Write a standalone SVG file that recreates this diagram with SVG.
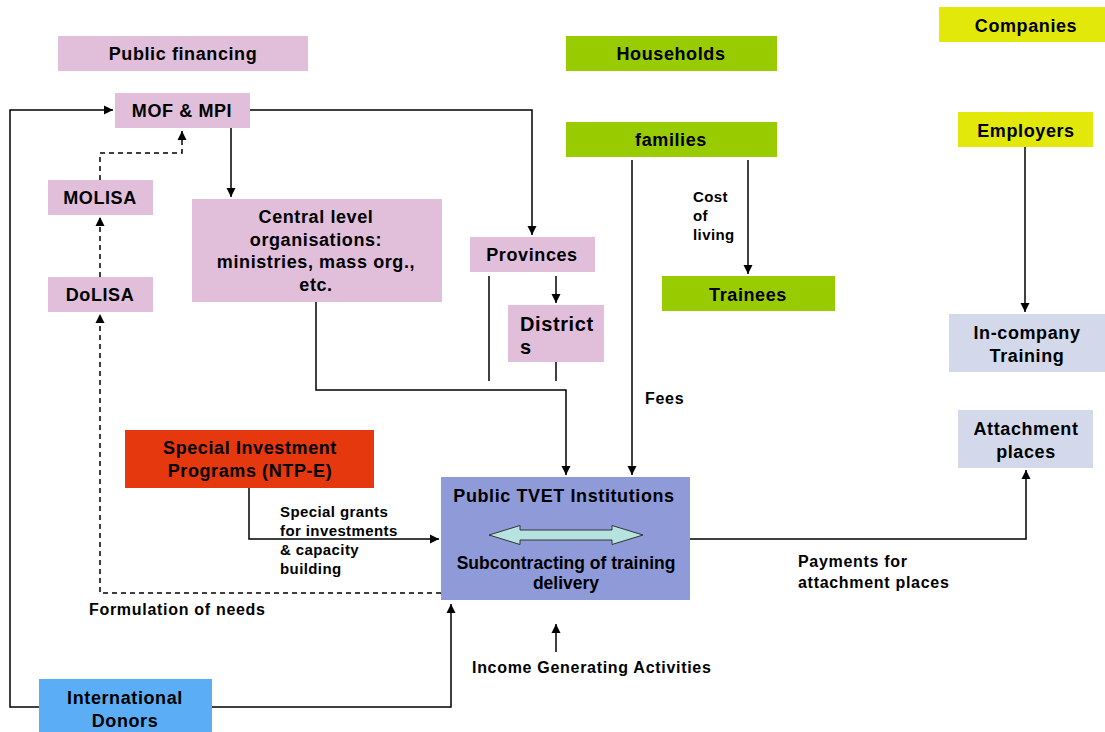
<svg xmlns="http://www.w3.org/2000/svg" width="1105" height="732" viewBox="0 0 1105 732">
<defs>
<marker id="ah" markerWidth="10" markerHeight="10" refX="9" refY="5" orient="auto" markerUnits="userSpaceOnUse">
<path d="M0,0.5 L9,5 L0,9.5 z" fill="#000"/>
</marker>
<style>
text{font-family:"Liberation Sans",Arial,sans-serif;font-weight:bold;fill:#000}
.n{font-size:18px;letter-spacing:0.6px;text-anchor:middle}
.l{font-size:16px;letter-spacing:0.7px}
.s{font-size:15px;letter-spacing:0.4px}
.pink{fill:#E1BEDA}
.green{fill:#99CC00}
.yel{fill:#E2E80A}
.lav{fill:#D3D9EB}
.c{fill:none;stroke:#000;stroke-width:1.5}
.d{fill:none;stroke:#000;stroke-width:1.5;stroke-dasharray:5,4}
</style>
</defs>
<rect width="1105" height="732" fill="#fff"/>
<g id="connectors">
<path class="c" d="M39,707 H10 V110 H113" marker-end="url(#ah)"/>
<path class="c" d="M212,707 H451 V604" marker-end="url(#ah)"/>
<path class="c" d="M250,110 H532 V235" marker-end="url(#ah)"/>
<path class="c" d="M231,128 V197" marker-end="url(#ah)"/>
<path class="d" d="M100,180 V153 H182 V131" marker-end="url(#ah)"/>
<path class="d" d="M100,277 V217" marker-end="url(#ah)"/>
<path class="d" d="M441,593 H100 V314" marker-end="url(#ah)"/>
<path class="c" d="M316,302 V390 H566 V475" marker-end="url(#ah)"/>
<path class="c" d="M489,276 V381"/>
<path class="c" d="M556,276 V303" marker-end="url(#ah)"/>
<path class="c" d="M556,343 V381"/>
<path class="c" d="M632,160 V475" marker-end="url(#ah)"/>
<path class="c" d="M748,160 V274" stroke-width="2.2" marker-end="url(#ah)"/>
<path class="c" d="M1025,147 V312" marker-end="url(#ah)"/>
<path class="c" d="M690,539 H1026 V470" marker-end="url(#ah)"/>
<path class="c" d="M249,488 V539 H439" marker-end="url(#ah)"/>
<path class="c" d="M556,652 V624" marker-end="url(#ah)"/>
</g>
<g id="public-financing"><rect class="pink" x="58" y="36" width="250" height="35"/><text class="n" x="183" y="60">Public financing</text></g>
<g id="mof-mpi"><rect class="pink" x="115" y="93" width="135" height="35"/><text class="n" x="182" y="117">MOF &amp; MPI</text></g>
<g id="molisa"><rect class="pink" x="48" y="180" width="105" height="35"/><text class="n" x="100" y="204">MOLISA</text></g>
<g id="dolisa"><rect class="pink" x="48" y="277" width="105" height="35"/><text class="n" x="100" y="301">DoLISA</text></g>
<g id="central"><rect class="pink" x="192" y="199" width="250" height="103"/>
<text class="n" x="316" y="223">Central level</text>
<text class="n" x="316" y="246">organisations:</text>
<text class="n" x="316" y="268">ministries, mass org.,</text>
<text class="n" x="316" y="291">etc.</text></g>
<g id="provinces"><rect class="pink" x="470" y="237" width="125" height="35"/><text class="n" x="532" y="261">Provinces</text></g>
<g id="districts"><rect class="pink" x="508" y="305" width="96" height="57"/>
<text x="520" y="331" style="font-size:20px;letter-spacing:0.6px">District</text>
<text x="520" y="354" style="font-size:20px">s</text></g>
<g id="households"><rect class="green" x="566" y="36" width="211" height="35"/><text class="n" x="671" y="60">Households</text></g>
<g id="families"><rect class="green" x="566" y="122" width="211" height="35"/><text class="n" x="671" y="146">families</text></g>
<g id="trainees"><rect class="green" x="662" y="276" width="173" height="35"/><text class="n" x="748" y="301">Trainees</text></g>
<g id="companies"><rect class="yel" x="939" y="7" width="166" height="35"/><text class="n" x="1026" y="32">Companies</text></g>
<g id="employers"><rect class="yel" x="958" y="112" width="135" height="35"/><text class="n" x="1026" y="137">Employers</text></g>
<g id="in-company"><rect class="lav" x="949" y="314" width="156" height="58"/>
<text class="n" x="1027" y="339">In-company</text>
<text class="n" x="1027" y="362">Training</text></g>
<g id="attachment"><rect class="lav" x="958" y="410" width="135" height="58"/>
<text class="n" x="1026" y="435">Attachment</text>
<text class="n" x="1026" y="458">places</text></g>
<g id="special-investment"><rect x="125" y="430" width="249" height="58" fill="#E5380E"/>
<text class="n" x="250" y="454">Special Investment</text>
<text class="n" x="250" y="477">Programs (NTP-E)</text></g>
<g id="tvet"><rect x="441" y="477" width="249" height="123" fill="#8F9AD9"/>
<text class="n" x="564" y="502">Public TVET Institutions</text>
<path d="M489,535 L520,525.5 L520,530 L612,530 L612,525.5 L643,535 L612,544.5 L612,540 L520,540 L520,544.5 z" fill="#B6E3E0" stroke="#333" stroke-width="1"/>
<text x="566" y="569" style="font-size:17.5px;text-anchor:middle">Subcontracting of training</text>
<text x="566" y="589" style="font-size:17.5px;text-anchor:middle">delivery</text></g>
<g id="donors"><rect x="39" y="679" width="173" height="53" fill="#5BAEF5"/>
<text class="n" x="125" y="704">International</text>
<text class="n" x="125" y="727">Donors</text></g>
<g id="labels">
<text class="s" x="693" y="202">Cost</text>
<text class="s" x="693" y="221">of</text>
<text class="s" x="693" y="240">living</text>
<text class="l" x="645" y="404">Fees</text>
<text class="s" x="280" y="517">Special grants</text>
<text class="s" x="280" y="536">for investments</text>
<text class="s" x="280" y="555">&amp; capacity</text>
<text class="s" x="280" y="574">building</text>
<text class="l" x="798" y="567">Payments for</text>
<text class="l" x="798" y="588">attachment places</text>
<text class="l" x="89" y="615">Formulation of needs</text>
<text class="l" x="472" y="673">Income Generating Activities</text>
</g>
</svg>
